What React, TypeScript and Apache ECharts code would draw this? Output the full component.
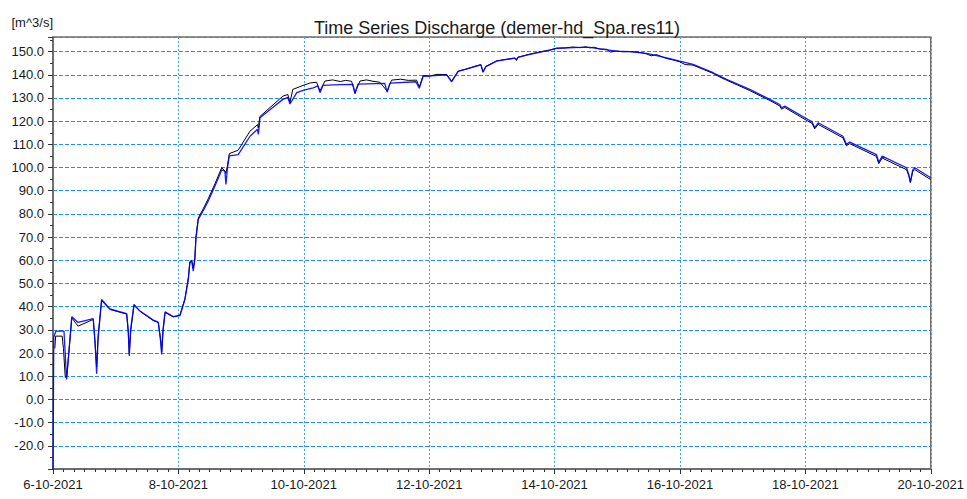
import React, { useEffect, useRef } from "react";
import * as echarts from "echarts";

// Hours since 6-10-2021 00:00
const blueHours = [
  0, 0.3, 1.15, 4.2, 5.2, 7.2, 9.6, 15.4, 16.1, 16.7, 17.2, 18.6, 21.8, 28.2, 28.8, 29.2, 29.7, 31.0, 33.3,
  38.4, 40.3, 41.2, 41.6, 42.1, 42.9, 46, 48.6, 50.5, 51.8, 52.4, 53.1, 53.7, 54.3, 54.7, 55.6, 57.5, 59.4,
  62, 64.6, 65.8, 66.2, 66.8, 67.5, 70.9, 75.4, 78.3, 78.6, 79.0, 79.2, 84, 88, 89.9, 90.7, 93.3, 96, 99.6,
  101.4, 102.2, 103.3, 109.8, 114.8, 115.6, 116.7, 127, 127.9, 129, 138.9, 140.2, 141.7, 150.7, 152.6,
  155.1, 161.5, 163.8, 164.6, 165.7, 169.8, 176.8, 177.4, 178, 182.5, 190.2, 192.8, 201.7, 205.5, 209.3,
  215.7, 220.8, 227.2, 234.9, 239.9, 245, 252.7, 257.8, 266.7, 274.4, 278.2, 278.9, 280.1, 289, 290.5,
  291.6, 292.9, 302.4, 303.7, 305, 315.2, 316.1, 317.4, 326.7, 327.6, 328.2, 329.1, 329.9, 336,
];
const blueValues = [
  -35, 27, 29.5, 29.5, 8.6, 35.7, 33.2, 34.8, 25, 11.1, 25, 43.1, 39, 37, 30, 18.7, 30, 41, 38.1,
  34.2, 33.3, 25, 19.4, 30, 37.8, 35.7, 36.2, 43.1, 51.7, 59, 59.6, 55.3, 60.4, 69, 77.6, 81.4, 85.5,
  92, 99, 98.4, 92.7, 100, 105, 105.6, 113.5, 116.5, 114.3, 118.5, 121.5, 125.8, 129.4, 130.3, 127.4, 132.3, 133.4, 134.4,
  135.2, 132.3, 135.4, 135.8, 135.9, 131.8, 136, 136.3, 132.5, 136.4, 137, 134.2, 139.3, 140, 137,
  141.5, 143.5, 144.3, 141.1, 143.5, 145.9, 147.2, 146.5, 147.5, 148.8, 150.6, 151.4, 151.8, 151.8, 151.2,
  150.2, 150, 149.2, 147.3, 145.9, 144.5, 140.9, 138, 133.7, 129.4, 127.2, 125.8, 126.5, 120.7, 119.8,
  117.2, 119.3, 113.5, 110, 111, 105.6, 102.3, 104.9, 99.9, 97, 93.7, 99, 99.9, 95.6,
];

const blackHours = [
  0.7, 1.0, 3.5, 4.0, 4.7, 5.3, 7.2, 9.6, 15.4, 16.1, 16.7, 17.3, 18.6, 21.8, 28.2, 28.8, 29.2, 29.8, 31.0,
  33.3, 38.4, 40.3, 41.2, 41.6, 42.1, 42.9, 46, 48.6, 50.5, 51.8, 52.4, 53.1, 53.7, 54.3, 54.7, 55.6, 57.5,
  59.4, 62, 64.6, 65.8, 66.2, 66.8, 67.5, 70.9, 75.4, 78.3, 78.6, 79.2, 88, 89.9, 90.7, 91.8, 95.7, 98.5,
  100.9, 102.2, 104.1, 107, 110, 112, 114.3, 115.6, 117.5, 120, 122.5, 125.1, 127.9, 129.6, 133, 136,
  139.2, 140.2, 141.7, 144, 147, 150.7, 152.6, 155.1, 158, 161.5, 163.8, 164.6, 165.7, 169.8, 173, 176.8,
  177.4, 178, 182.5, 186, 190.2, 192.8, 196, 199, 201.7, 204, 205.5, 207, 209.3, 212, 213.5, 215.7, 218,
  220.8, 224, 227.2, 229, 231, 234.9, 237, 239.9, 242, 245, 249, 252.7, 255, 257.8, 262, 266.7, 274.4,
  278.2, 278.9, 280.1, 289, 290.5, 291.6, 292.9, 302.4, 303.7, 305, 315.2, 316.1, 317.4, 326.7, 327.6,
  328.2, 329.1, 329.9, 336,
];
const blackValues = [
  22, 27.3, 27.3, 22, 9.5, 10, 35.2, 31.6, 34.5, 24, 14, 28, 42.6, 38.8, 36.8, 29, 20, 30, 40.6,
  38, 34, 33.2, 26, 20.5, 29, 37.5, 35.6, 36.3, 43.5, 52.5, 59.5, 60, 56.5, 61, 70, 78.2, 82.2,
  86.5, 93, 100, 98.5, 97.5, 101, 106, 107.5, 115.7, 118.5, 117, 122, 130.8, 131.5, 128, 133.7, 135.4, 136.5,
  136.8, 133, 137.3, 137.8, 137.1, 137.6, 137.2, 132.3, 137.3, 137.8, 137.2, 136.8, 133, 137.7, 138.1, 137.6,
  137.7, 134.7, 139.7, 139.4, 140.2, 140.1, 137.3, 141.6, 142.4, 143.7, 144.4, 141.3, 143.6, 146.0, 146.6, 147.2,
  146.2, 147.6, 148.9, 149.8, 150.7, 151.5, 151.6, 152.0, 151.7, 152.1, 151.6, 151.9, 151.1, 151.0, 149.8, 150.3, 149.9,
  150.0, 149.8, 149.0, 148.2, 148.7, 147.0, 146.5, 145.6, 144.4, 144.2, 142.3, 140.6, 139.2, 137.7, 135.6, 133.2, 128.9,
  126.6, 125.2, 125.9, 120.0, 119.1, 116.7, 118.6, 112.8, 109.4, 110.3, 104.8, 101.7, 104.1, 99.1, 96.5,
  93.5, 98.3, 99.1, 94.8,
];

const TITLE = "Time Series Discharge (demer-hd_Spa.res11)";
const UNIT = "[m^3/s]";
const START_DAY = 6;

const FONT = "'Liberation Sans', Arial, sans-serif";
const TEXT_COLOR = "#1a1a1a";

function pairs(xs: number[], ys: number[]) {
  return xs.map((x, i) => [x, ys[i]]);
}

export default function App() {
  const ref = useRef<HTMLDivElement>(null);
  useEffect(() => {
    document.body.style.margin = "0";
    const chart = echarts.init(ref.current!, undefined, { renderer: "svg" });
    chart.setOption({
      animation: false,
      backgroundColor: "#ffffff",
      title: {
        text: TITLE,
        left: 492,
        textAlign: "center",
        top: 14,
        textStyle: { fontFamily: FONT, fontSize: 18, fontWeight: "normal", color: TEXT_COLOR },
      },
      grid: {
        left: 53,
        right: 36,
        top: 37,
        bottom: 30,
        show: true,
        borderColor: "#707070",
        borderWidth: 1.5,
        containLabel: false,
      },
      xAxis: {
        type: "value",
        min: 0,
        max: 336,
        interval: 48,
        axisLine: { show: true, onZero: false, lineStyle: { color: "#666", width: 1.5 } },
        axisTick: { show: true, length: 5, lineStyle: { color: "#333" } },
        minorTick: { show: true, splitNumber: 12, length: 3, lineStyle: { color: "#333" } },
        axisLabel: {
          fontFamily: FONT,
          fontSize: 13,
          color: TEXT_COLOR,
          margin: 9,
          showMaxLabel: true,
          formatter: (v: number) => `${START_DAY + Math.round(v / 24)}-10-2021`,
        },
        splitLine: { show: true, lineStyle: { color: "#3d9bff", type: [2, 2], width: 1 } },
      },
      yAxis: [
        {
          type: "value",
          min: -30,
          max: 156.3,
          interval: 10,
          name: UNIT,
          nameLocation: "end",
          nameGap: 15,
          nameTextStyle: {
            fontFamily: FONT,
            fontSize: 13,
            color: TEXT_COLOR,
            align: "right",
            verticalAlign: "middle",
          },
          axisLine: { show: true, onZero: false, lineStyle: { color: "#666", width: 1.5 } },
          axisTick: { show: true, length: 5, lineStyle: { color: "#333" } },
          axisLabel: {
            fontFamily: FONT,
            fontSize: 13,
            color: TEXT_COLOR,
            margin: 9,
            formatter: (v: number) =>
              Math.abs(v % 10) < 1e-6 && v > -25 && v < 155 ? v.toFixed(1) : "",
          },
          splitLine: { show: true, lineStyle: { color: "#1e8fff", type: [4, 2], width: 1 } },
        },
        {
          type: "value",
          min: -30,
          max: 156.3,
          interval: 5,
          position: "left",
          axisLine: { show: false },
          axisTick: { show: true, length: 3, lineStyle: { color: "#333" } },
          axisLabel: { show: false },
          splitLine: { show: false },
        },
      ],
      series: [
        {
          type: "line",
          name: "black",
          data: pairs(blackHours, blackValues),
          showSymbol: false,
          symbol: "none",
          clip: true,
          lineStyle: { color: "#000000", width: 1 },
          z: 2,
        },
        {
          type: "line",
          name: "blue",
          data: pairs(blueHours, blueValues),
          showSymbol: false,
          symbol: "none",
          clip: true,
          lineStyle: { color: "#0000ff", width: 1.3, opacity: 0.9 },
          z: 3,
        },
      ],
    });
    return () => chart.dispose();
  }, []);
  return (
    <div
      ref={ref}
      style={{ position: "absolute", left: 0, top: 0, width: 967, height: 499, background: "#fff" }}
    />
  );
}
